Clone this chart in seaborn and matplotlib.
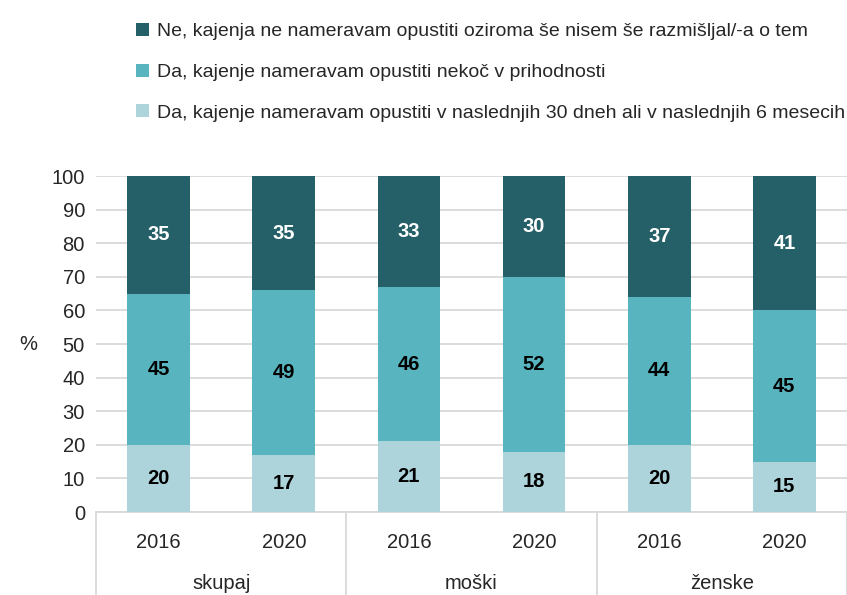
import numpy as np
import pandas as pd
import matplotlib
matplotlib.use("Agg")
import matplotlib.pyplot as plt
import matplotlib.transforms as mtransforms
from matplotlib.patches import Patch
import seaborn as sns

sns.set_style("white")
plt.rcParams['font.family'] = ['Liberation Sans', 'DejaVu Sans']

groups = ["skupaj", "moški", "ženske"]
years = ["2016", "2020"]
bottom_vals = [20, 17, 21, 18, 20, 15]
mid_vals = [45, 49, 46, 52, 44, 45]
top_vals = [35, 35, 33, 30, 37, 41]
series_names = [
    "Ne, kajenja ne nameravam opustiti oziroma še nisem še razmišljal/-a o tem",
    "Da, kajenje nameravam opustiti nekoč v prihodnosti",
    "Da, kajenje nameravam opustiti v naslednjih 30 dneh ali v naslednjih 6 mesecih",
]
colors = ["#255F67", "#58B5C0", "#ADD4DB"]
yticks = list(range(0, 101, 10))

cats = [f"{g}\n{y}" for g in groups for y in years]
df = pd.DataFrame({"cat": cats, "b": bottom_vals, "m": mid_vals, "t": top_vals})
df["bm"] = df["b"] + df["m"]
df["bmt"] = df["bm"] + df["t"]

fig = plt.figure(figsize=(8.47, 5.95), dpi=100)
ax = fig.add_axes([96/847, (595-512)/595, 751/847, 336/595])

for col, c in [("bmt", colors[0]), ("bm", colors[1]), ("b", colors[2])]:
    sns.barplot(data=df, x="cat", y=col, order=cats, color=c, width=0.5,
                saturation=1, ax=ax, zorder=3, linewidth=0)

FS = 14.5
ax.set_ylim(0, 100)
ax.set_xlim(-0.5, 5.5)
ax.set_yticks(yticks)
ax.set_yticklabels([str(v) for v in yticks], fontsize=FS)
ax.grid(axis="y", color="#D9D9D9", linewidth=1.3, zorder=0)
ax.set_axisbelow(True)
for s in ["top", "right", "left"]:
    ax.spines[s].set_visible(False)
ax.spines["bottom"].set_color("#D9D9D9")
ax.spines["bottom"].set_linewidth(1.3)
ax.tick_params(axis="y", length=0, pad=8)
ax.set_ylabel("%", fontsize=FS, rotation=0, va="center")
ax.yaxis.set_label_coords(-0.09, 0.5)

# x labels (years)
ax.set_xticks(range(len(cats)))
ax.set_xticklabels([y for g in groups for y in years], fontsize=FS)
ax.tick_params(axis="x", length=0, pad=15)
ax.set_xlabel("")

trans = mtransforms.blended_transform_factory(ax.transData, ax.transAxes)
for xb in [-0.5, 1.5, 3.5, 5.5]:
    ax.plot([xb, xb], [0, -0.26], transform=trans, color="#D9D9D9",
            linewidth=1.3, clip_on=False)
for i, g in enumerate(groups):
    ax.text(2 * i + 0.5, -0.214, g, transform=trans, ha="center", va="center",
            fontsize=FS)

# value labels
for i in range(len(cats)):
    b, m, t = bottom_vals[i], mid_vals[i], top_vals[i]
    ax.text(i, b / 2, str(b), ha="center", va="center", fontsize=FS,
            fontweight="bold", color="black", zorder=5)
    ax.text(i, b + m / 2, str(m), ha="center", va="center", fontsize=FS,
            fontweight="bold", color="black", zorder=5)
    top_end = min(b + m + t, 100)
    ax.text(i, (b + m + top_end) / 2, str(t), ha="center", va="center",
            fontsize=FS, fontweight="bold", color="white", zorder=5)

handles = [Patch(facecolor=c, edgecolor="none") for c in colors]
fig.legend(handles, series_names, loc="upper left",
           bbox_to_anchor=(136/847, 1 - 23/595), frameon=False, fontsize=14.0,
           handlelength=0.65, handleheight=0.65, handletextpad=0.45,
           labelspacing=1.2, borderaxespad=0, borderpad=0)

fig.savefig("out.png", dpi=100)
